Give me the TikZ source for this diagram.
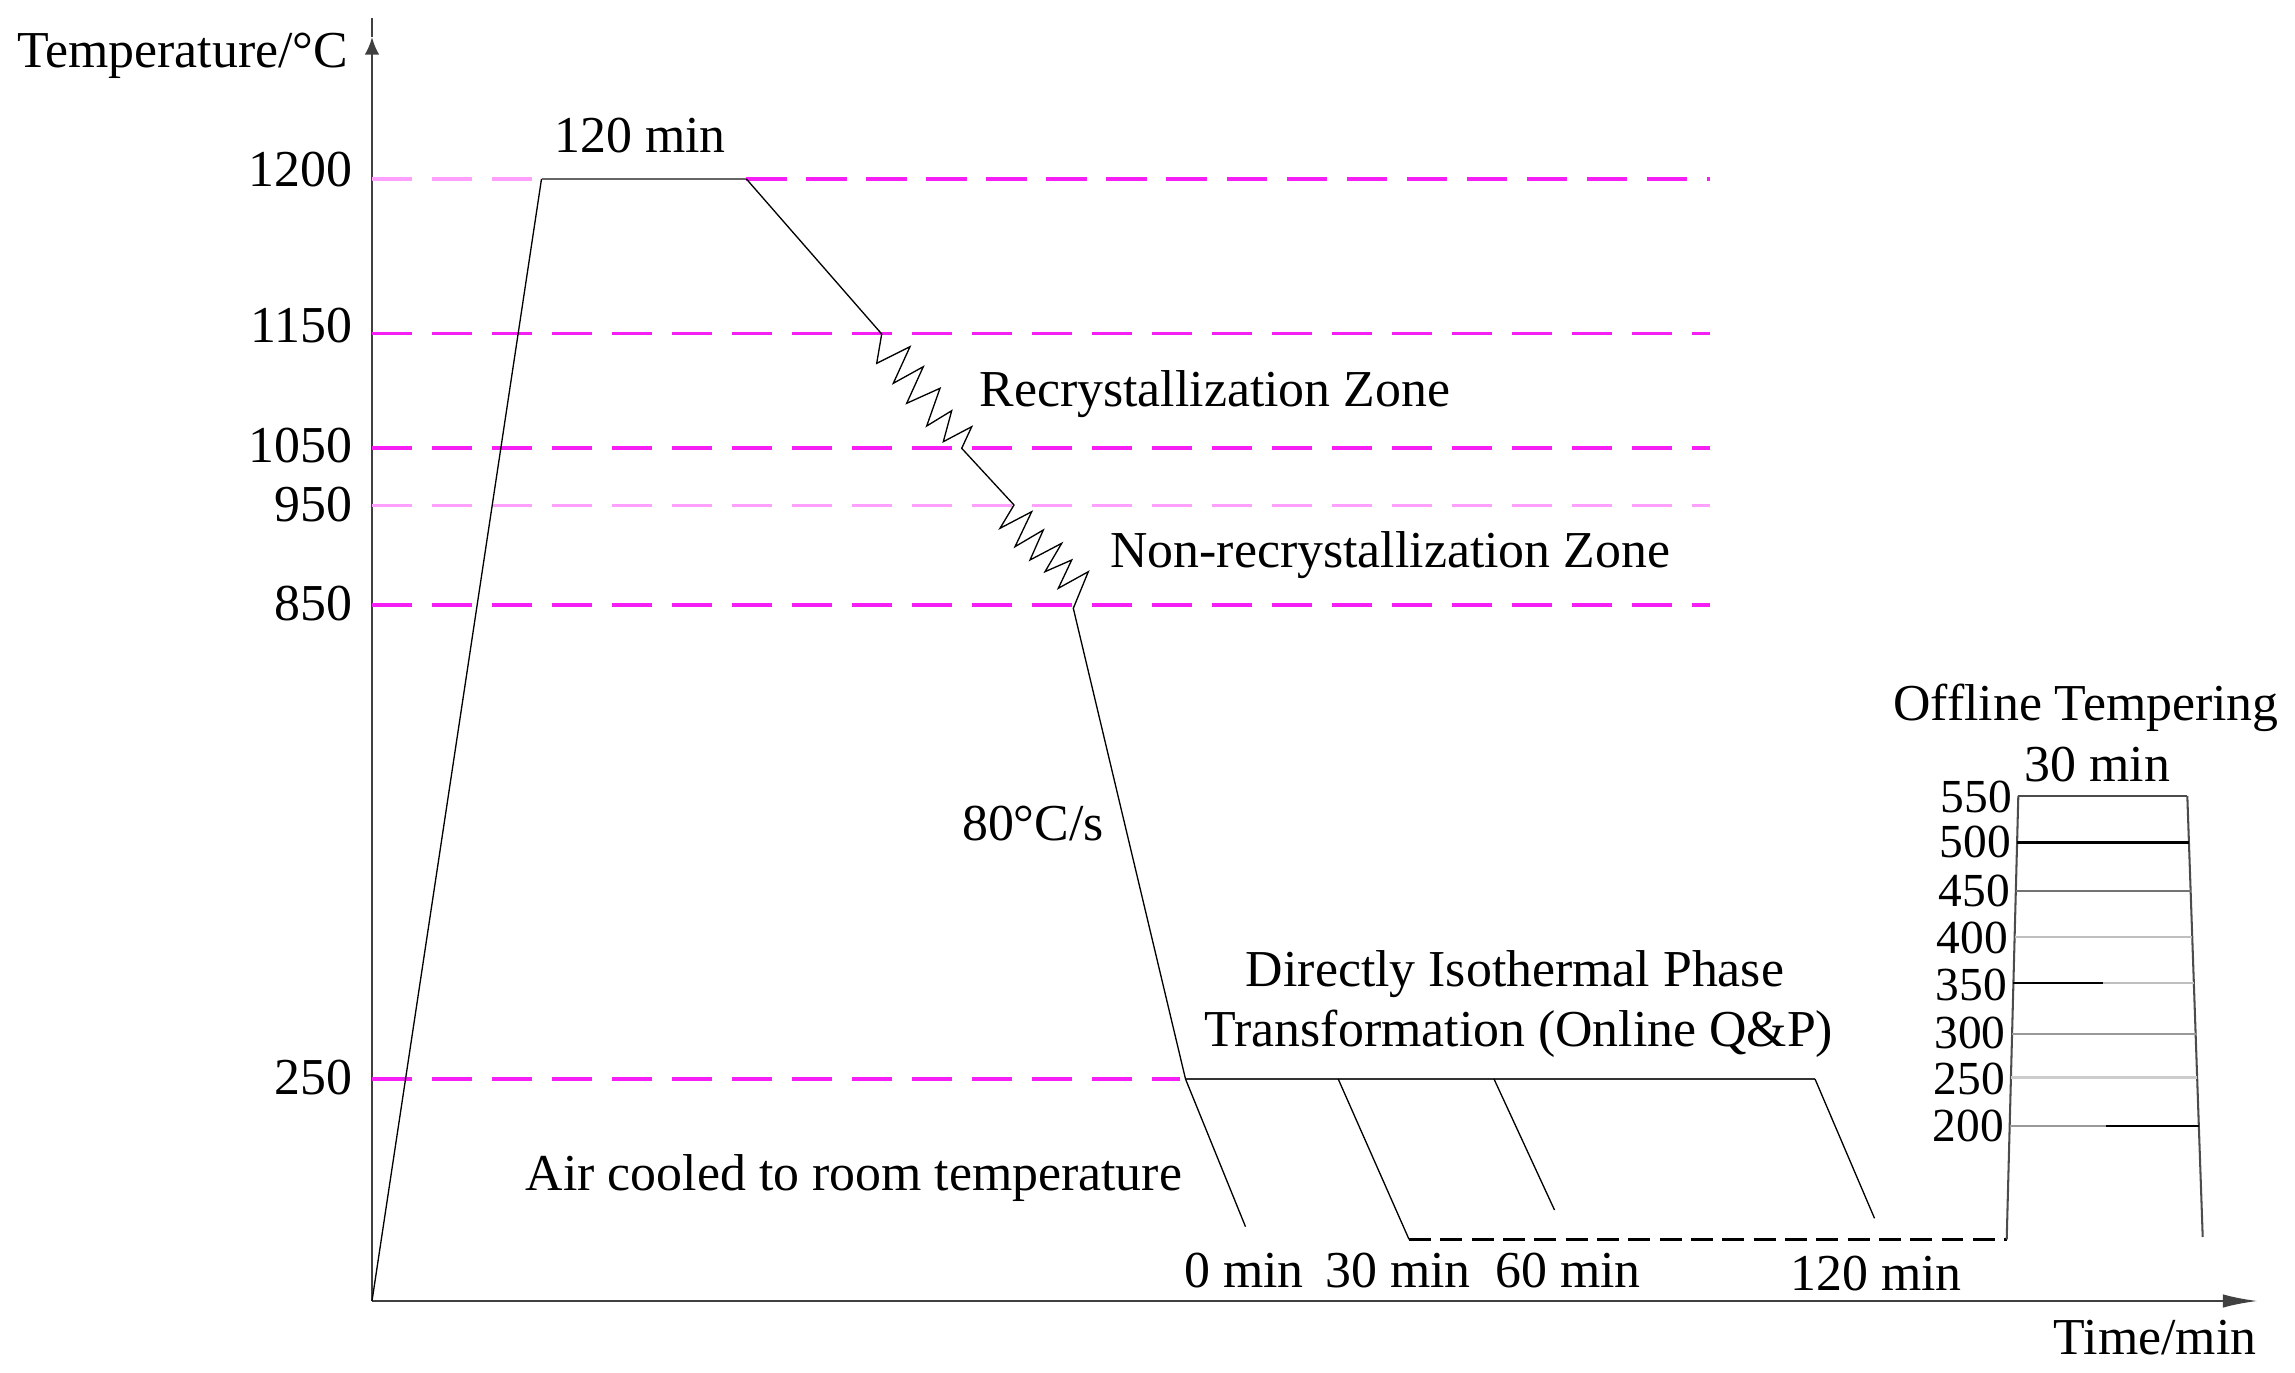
\documentclass[tikz,border=0pt]{standalone}
\usepackage{fontspec}
\setmainfont{Liberation Serif}
\usetikzlibrary{arrows.meta}
\begin{document}
\begin{tikzpicture}[x=0.3416pt,y=-0.3416pt,
  lbl/.style={font=\fontsize{17.7}{21}\selectfont, inner sep=0pt, outer sep=0pt},
  tick/.style={lbl, anchor=base east},
  otick/.style={tick, font=\fontsize{16.2}{19}\selectfont},
  guide/.style={draw={rgb,255:red,245;green,30;blue,245}, line width=1.15pt, dash pattern=on 13.7pt off 6.8pt},
  guidelight/.style={guide, draw={rgb,255:red,255;green,160;blue,255}},
  prof/.style={draw=black, line width=0.45pt, line join=miter},
  holdline/.style={draw=black!80, line width=1pt},
  axisline/.style={draw=black!75, line width=0.9pt},
  blackdash/.style={draw=black, line width=0.9pt, dash pattern=on 7.5pt off 3.2pt},
  temper/.style={line width=0.7pt},
]
\useasboundingbox (0,0) rectangle (2295,1373);

% ---------- axes ----------
\coordinate (O) at (372,1301);
\coordinate (yarr) at (372,37);
\coordinate (ytop) at (372,18);
\coordinate (xend) at (2258,1301);
\draw[axisline, -{Latex[length=6pt,width=5pt]}] (O) -- (yarr);
\draw[axisline, line width=0.6pt] (yarr) -- (ytop);
\draw[axisline, -{Latex[length=12pt,width=4.6pt]}] (O) -- (xend);

\node[lbl, anchor=base] (ylab) at (182.5,68) {Temperature/°C};
\node[lbl, anchor=base] (xlab) at (2155,1354) {Time/min};

% ---------- tick labels ----------
\node[tick] (t1200) at (352,187) {1200};
\node[tick] (t1150) at (352,343) {1150};
\node[tick] (t1050) at (352,463) {1050};
\node[tick] (t950)  at (352,522) {950};
\node[tick] (t850)  at (352,620) {850};
\node[tick] (t250)  at (352,1094) {250};

% ---------- process profile points ----------
\coordinate (p1) at (541.5,179);
\coordinate (p2) at (746.4,179);
\coordinate (p3) at (881.7,334);
\coordinate (p4) at (961.7,448.3);
\coordinate (p5) at (1014,505);
\coordinate (p6) at (1073.3,608.3);
\coordinate (p7) at (1185.5,1079);

% ---------- guide lines ----------
\coordinate (g1200a) at (372,179);   \coordinate (g1200b) at (1710,179);
\coordinate (g1150a) at (372,333.5); \coordinate (g1150b) at (1710,333.5);
\coordinate (g1050a) at (372,448);   \coordinate (g1050b) at (1710,448);
\coordinate (g950a)  at (372,505.5); \coordinate (g950b)  at (1710,505.5);
\coordinate (g850a)  at (372,605);   \coordinate (g850b)  at (1710,605);
\coordinate (g250a)  at (372,1079);  \coordinate (g250b)  at (1180,1079);
\draw[guidelight] (g1200a) -- (p1);
\draw[guide] (p2) -- (g1200b);
\draw[guide] (g1150a) -- (g1150b);
\draw[guide] (g1050a) -- (g1050b);
\draw[guidelight] (g950a) -- (g950b);
\draw[guide] (g850a) -- (g850b);
\draw[guide] (g250a) -- (g250b);

% ---------- process profile ----------
\draw[prof] (O) -- (p1);
\draw[prof, line width=0.8pt, draw=black!60] (p1) -- (p2);
\draw[prof] (p2) -- (p3)
  -- (876.7,363.3) -- (910,346.7) -- (893.3,383.3) -- (923.3,366.7)
  -- (906.7,403.3) -- (940,388.3) -- (926.7,426) -- (951.7,410.7)
  -- (943.3,441.7) -- (971.7,426.7) -- (p4) -- (p5)
  -- (1000,528.3) -- (1031.7,511.7) -- (1015,546.7) -- (1043.3,530)
  -- (1030,560) -- (1061.7,543.3) -- (1045,571.7) -- (1071.7,560)
  -- (1058.3,588.3) -- (1088.3,571.7) -- (p6) -- (p7);

% isothermal hold and quench branches
\coordinate (h30)  at (1338.2,1079);
\coordinate (h60)  at (1494,1079);
\coordinate (h120) at (1815,1079);
\coordinate (e0)   at (1245.5,1226.7);
\coordinate (e30)  at (1409,1239.3);
\coordinate (e60)  at (1554.5,1210);
\coordinate (e120) at (1874.5,1218.3);
\draw[holdline] (p7) -- (h120);
\draw[prof] (p7) -- (e0);
\draw[prof] (h30) -- (e30);
\draw[prof] (h60) -- (e60);
\draw[prof] (h120) -- (e120);

% room temperature (dashed) to offline tempering
\coordinate (tb)  at (2006.7,1239.3);
\coordinate (tl)  at (2018.3,796);
\coordinate (tr)  at (2187.3,796);
\coordinate (trb) at (2202.7,1237);
\draw[blackdash] (e30) -- (tb);
\draw[temper, draw=black!70] (tb) -- (tl);
\draw[temper, draw=black!70] (tl) -- (tr);
\draw[temper, draw=black!70] (tr) -- (trb);

% tempering levels
\coordinate (l500a) at (2017.1,842.5);  \coordinate (l500b) at (2188.9,842.5);
\coordinate (l450a) at (2015.8,890.7);  \coordinate (l450b) at (2190.6,890.7);
\coordinate (l400a) at (2014.6,937);    \coordinate (l400b) at (2192.2,937);
\coordinate (l350a) at (2013.4,983);    \coordinate (l350m) at (2103,983);   \coordinate (l350b) at (2193.8,983);
\coordinate (l300a) at (2012.1,1033.8); \coordinate (l300b) at (2195.6,1033.8);
\coordinate (l250a) at (2010.9,1077.4); \coordinate (l250b) at (2197.1,1077.4);
\coordinate (l200a) at (2009.7,1126.3); \coordinate (l200m) at (2106,1126.3); \coordinate (l200b) at (2198.8,1126.3);
\draw[temper, draw=black] (l500a) -- (l500b);
\draw[temper, draw=black!55] (l450a) -- (l450b);
\draw[temper, draw=black!25] (l400a) -- (l400b);
\draw[temper, draw=black] (l350a) -- (l350m);
\draw[temper, draw=black!25] (l350m) -- (l350b);
\draw[temper, draw=black!40] (l300a) -- (l300b);
\draw[temper, draw=black!20, line width=1pt] (l250a) -- (l250b);
\draw[temper, draw=black!40] (l200a) -- (l200m);
\draw[temper, draw=black] (l200m) -- (l200b);

\node[otick] (o550) at (2012,812) {550};
\node[otick] (o500) at (2011,857.5) {500};
\node[otick] (o450) at (2010,906) {450};
\node[otick] (o400) at (2008,953) {400};
\node[otick] (o350) at (2007,1000) {350};
\node[otick] (o300) at (2005.5,1048) {300};
\node[otick] (o250) at (2005,1094) {250};
\node[otick] (o200) at (2004,1141.7) {200};

% ---------- labels ----------
\node[lbl, anchor=base] (hold120) at (640,153) {120 min};
\node[lbl, anchor=base west] (rz) at (979.6,406.7) {Recrystallization Zone};
\node[lbl, anchor=base west] (nrz) at (1110.3,567.3) {Non-recrystallization Zone};
\node[lbl, anchor=base] (rate) at (1033,840) {80°C/s};
\node[lbl, anchor=base] (dit1) at (1515,986.7) {Directly Isothermal Phase};
\node[lbl, anchor=base] (dit2) at (1519,1046.7) {Transformation (Online Q\&P)};
\node[lbl, anchor=base] (air) at (854,1190) {Air cooled to room temperature};
\node[lbl, anchor=base] (m0) at (1244,1287) {0 min};
\node[lbl, anchor=base] (m30) at (1398,1287) {30 min};
\node[lbl, anchor=base] (m60) at (1568,1287) {60 min};
\node[lbl, anchor=base] (m120) at (1876,1290) {120 min};
\node[lbl, anchor=base] (off) at (2086,720.5) {Offline Tempering};
\node[lbl, anchor=base] (off30) at (2097.5,782) {30 min};
\end{tikzpicture}
\end{document}
